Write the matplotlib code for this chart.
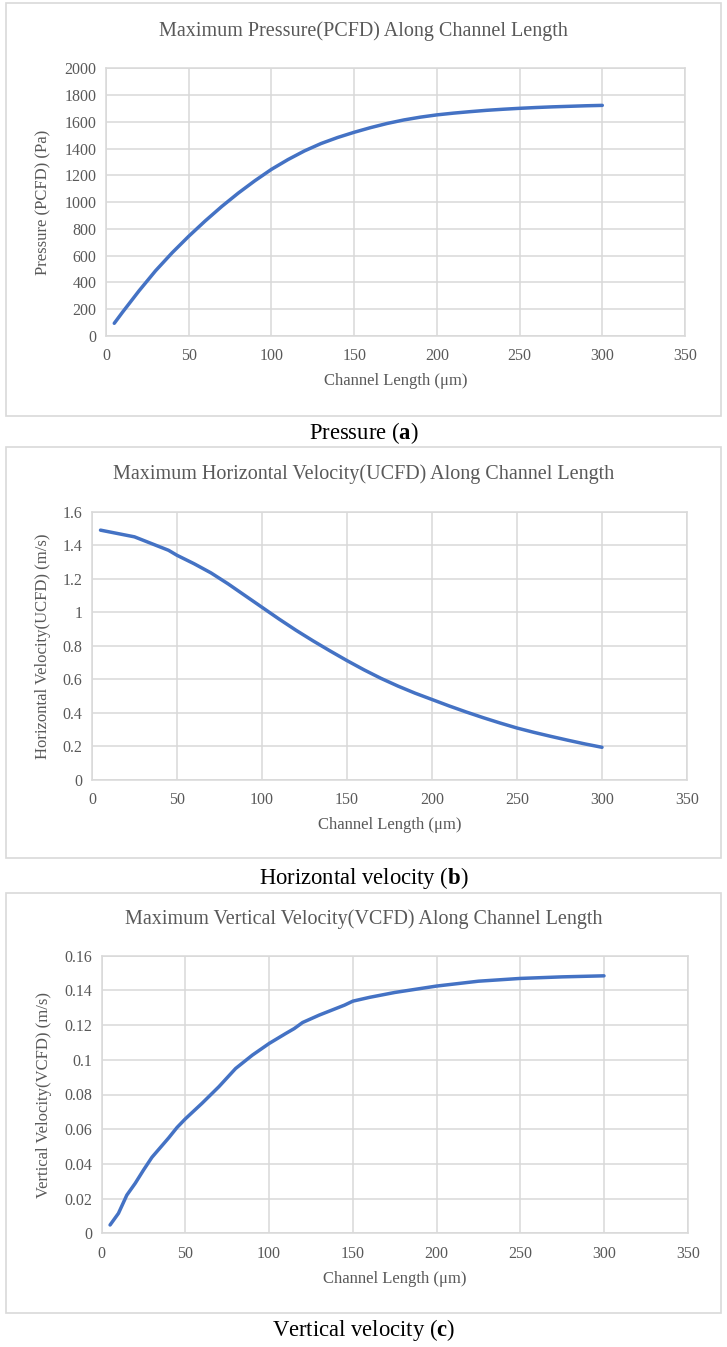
"""Three stacked Excel-style line charts: max pressure / horizontal / vertical velocity along channel length."""

import matplotlib
matplotlib.use("Agg")
import matplotlib.pyplot as plt
from matplotlib.patches import Rectangle

plt.rcParams["font.family"] = ["Liberation Serif", "DejaVu Serif"]
plt.rcParams["mathtext.fontset"] = "custom"
plt.rcParams["mathtext.rm"] = "Liberation Serif"
plt.rcParams["mathtext.bf"] = "Liberation Serif:bold"

W, H = 727, 1347

# ---- data ----
p_x = [5, 10, 20, 30, 40, 50, 60, 70, 80, 90, 100, 110, 120, 130, 140, 150,
       160, 170, 180, 190, 200, 210, 220, 230, 240, 250, 260, 270, 280, 290, 300]
p_y = [95, 178, 338, 488, 622, 745, 860, 968, 1068, 1160, 1245, 1318, 1383,
       1438, 1483, 1522, 1557, 1588, 1614, 1635, 1652, 1665, 1676, 1686, 1694,
       1701, 1707, 1712, 1716, 1720, 1723]

u_x = [5, 15, 25, 35, 45, 50, 60, 70, 80, 90, 100, 110, 120, 130, 140, 150,
       160, 170, 180, 190, 200, 210, 220, 230, 240, 250, 260, 270, 280, 290, 300]
u_y = [1.49, 1.47, 1.45, 1.41, 1.37, 1.34, 1.29, 1.235, 1.17, 1.10, 1.03, 0.96,
       0.893, 0.83, 0.77, 0.712, 0.657, 0.606, 0.56, 0.518, 0.48, 0.442, 0.406,
       0.372, 0.34, 0.31, 0.284, 0.26, 0.237, 0.215, 0.195]

v_x = [5, 10, 15, 20, 25, 30, 40, 45, 50, 60, 70, 80, 90, 100, 110, 115, 120,
       130, 140, 145, 150, 160, 175, 200, 225, 250, 275, 300]
v_y = [0.0048, 0.0115, 0.022, 0.0288, 0.0365, 0.0438, 0.055, 0.061, 0.066,
       0.075, 0.0845, 0.095, 0.1027, 0.1094, 0.1152, 0.118, 0.1215, 0.1258,
       0.1296, 0.1315, 0.1338, 0.136, 0.1388, 0.1425, 0.1453, 0.1469, 0.1478, 0.1484]

panels = [
    dict(x=p_x, y=p_y, ymax=2000, ystep=200, fmt=lambda v: f"{v:.0f}",
         title="Maximum Pressure(PCFD) Along Channel Length",
         ylabel="Pressure (PCFD) (Pa)", caption=r"Pressure ($\mathbf{a}$)",
         box=(6, 3, 721, 416), ax=(106, 68.3, 685, 336),
         title_y=31, xlab_y=381.5, ylab_x=43, cap_y=433),
    dict(x=u_x, y=u_y, ymax=1.6, ystep=0.2, fmt=lambda v: f"{v:g}",
         title="Maximum Horizontal Velocity(UCFD) Along Channel Length",
         ylabel="Horizontal Velocity(UCFD) (m/s)", caption=r"Horizontal velocity ($\mathbf{b}$)",
         box=(6, 447, 721, 858), ax=(92, 511.7, 687, 780),
         title_y=474, xlab_y=825, ylab_x=43, cap_y=878),
    dict(x=v_x, y=v_y, ymax=0.16, ystep=0.02, fmt=lambda v: f"{v:g}",
         title="Maximum Vertical Velocity(VCFD) Along Channel Length",
         ylabel="Vertical Velocity(VCFD) (m/s)", caption=r"Vertical velocity ($\mathbf{c}$)",
         box=(6, 893, 721, 1313), ax=(101.7, 955.7, 687.7, 1233.3),
         title_y=919, xlab_y=1279, ylab_x=44, cap_y=1330),
]

GRID = "#d9d9d9"
TXT = "#595959"
LINE = "#4472C4"


def fx(px):
    return px / W


def fy(py):
    return 1 - py / H


fig = plt.figure(figsize=(W / 100, H / 100), dpi=100)

for p in panels:
    x0, y0, x1, y1 = p["box"]
    fig.patches.append(Rectangle((fx(x0), fy(y1)), fx(x1 - x0), (y1 - y0) / H,
                                 transform=fig.transFigure, fill=False,
                                 edgecolor=GRID, linewidth=1.2))
    l, t, r, b = p["ax"]
    ax = fig.add_axes([fx(l), fy(b), fx(r - l), (b - t) / H])
    ax.plot(p["x"], p["y"], color=LINE, linewidth=2.5, solid_capstyle="round",
            solid_joinstyle="round")
    ax.set_xlim(0, 350)
    ax.set_ylim(0, p["ymax"])
    ax.set_xticks(range(0, 351, 50))
    n = int(round(p["ymax"] / p["ystep"]))
    yt = [i * p["ystep"] for i in range(n + 1)]
    ax.set_yticks(yt)
    ax.set_yticklabels([p["fmt"](round(v, 4)) for v in yt])
    ax.grid(True, color=GRID, linewidth=1.1)
    ax.set_axisbelow(True)
    for s in ax.spines.values():
        s.set_color(GRID)
        s.set_linewidth(1.1)
    ax.tick_params(length=0, labelsize=11.5, labelcolor=TXT)
    ax.tick_params(axis="x", pad=9)
    ax.tick_params(axis="y", pad=7)

    fig.text(0.5 * (fx(x0) + fx(x1)), fy(p["title_y"]), p["title"], ha="center",
             va="center", fontsize=14.5, color=TXT)
    fig.text(fx((l + r) / 2), fy(p["xlab_y"]), "Channel Length (μm)", ha="center",
             va="center", fontsize=12, color=TXT)
    fig.text(fx(p["ylab_x"]), fy((t + b) / 2), p["ylabel"], ha="center",
             va="center", rotation=90, fontsize=12, color=TXT)
    fig.text(0.5, fy(p["cap_y"]), p["caption"], ha="center", va="center",
             fontsize=16.3, color="black")

fig.savefig("out.png", dpi=100)
